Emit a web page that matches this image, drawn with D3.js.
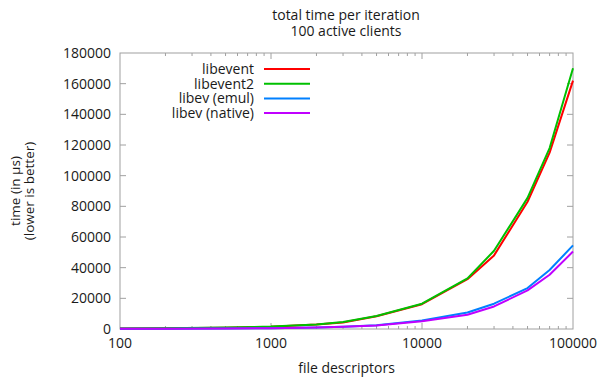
<!DOCTYPE html>
<html>
<head>
<meta charset="utf-8">
<script src="https://cdn.jsdelivr.net/npm/d3@7"></script>
<style>
  body { margin: 0; background: #fff; }
  svg { font-family: "Open Sans", sans-serif; }
</style>
</head>
<body>
<svg width="602" height="379"></svg>
<script>
const fds = [100, 200, 500, 1000, 2000, 3000, 5000, 10000, 20000, 30000, 50000, 70000, 100000];

const libevent  = [250, 450, 850, 1500, 2900, 4300, 8300, 16200, 32500, 48000, 83000, 115000, 162000];
const libevent2 = [300, 500, 900, 1600, 3000, 4500, 8500, 16500, 33000, 51000, 85500, 118000, 170000];
const libevEmul = [100, 150, 300, 550, 1000, 1500, 2500, 5500, 10800, 16500, 26700, 38500, 54500];
const libevNative = [90, 130, 280, 500, 900, 1400, 2300, 5000, 9300, 14700, 25200, 35400, 50500];

const seriesNames = ['libevent', 'libevent2', 'libev (emul)', 'libev (native)'];
const seriesColors = ['#ff0000', '#00c000', '#0080ff', '#c000ff'];
const seriesValues = [libevent, libevent2, libevEmul, libevNative];

const yTicks = [0, 20000, 40000, 60000, 80000, 100000, 120000, 140000, 160000, 180000];
const xTicks = [100, 1000, 10000, 100000];

const svg = d3.select('svg');
const plotLeft = 120, plotRight = 573, plotTop = 53, plotBottom = 329;
const axisColor = '#a0a0a0';
const textColor = '#1a1a1a';

const x = d3.scaleLog().domain([100, 100000]).range([plotLeft, plotRight]);
const y = d3.scaleLinear().domain([0, 180000]).range([plotBottom, plotTop]);

// minor ticks 2..9 per decade
const minorTicks = [];
for (let d = 100; d < 100000; d *= 10) {
    for (let m = 2; m <= 9; m++) minorTicks.push(d * m);
}

const g = svg.append('g');

// ticks (inward, mirrored on all sides)
g.selectAll('.ytick')
    .data(yTicks.slice(1, -1))
    .enter()
    .append('path')
    .attr('d', d => `M${plotLeft},${y(d)}h6M${plotRight},${y(d)}h-6`)
    .attr('stroke', axisColor)
    .attr('stroke-width', 1);

g.selectAll('.xtick')
    .data(xTicks.slice(1, -1))
    .enter()
    .append('path')
    .attr('d', d => `M${x(d)},${plotBottom}v-6M${x(d)},${plotTop}v6`)
    .attr('stroke', axisColor);

g.selectAll('.xminor')
    .data(minorTicks)
    .enter()
    .append('path')
    .attr('d', d => `M${x(d)},${plotBottom}v-3M${x(d)},${plotTop}v3`)
    .attr('stroke', axisColor);

// border
g.append('rect')
    .attr('x', plotLeft)
    .attr('y', plotTop)
    .attr('width', plotRight - plotLeft)
    .attr('height', plotBottom - plotTop)
    .attr('fill', 'none')
    .attr('stroke', axisColor);

// tick labels
g.selectAll('.ylabel')
    .data(yTicks)
    .enter()
    .append('text')
    .attr('x', plotLeft - 9)
    .attr('y', d => y(d))
    .attr('dy', '0.35em')
    .attr('text-anchor', 'end')
    .attr('font-size', 14)
    .attr('fill', textColor)
    .text(d => d);

g.selectAll('.xlabel')
    .data(xTicks)
    .enter()
    .append('text')
    .attr('x', d => x(d))
    .attr('y', plotBottom + 14)
    .attr('dy', '0.35em')
    .attr('text-anchor', 'middle')
    .attr('font-size', 14)
    .attr('fill', textColor)
    .text(d => d);

// lines
const line = d3.line()
    .x((d, i) => x(fds[i]))
    .y(d => y(d));

seriesValues.forEach((vals, i) => {
    g.append('path')
        .datum(vals)
        .attr('d', line)
        .attr('fill', 'none')
        .attr('stroke', seriesColors[i])
        .attr('stroke-width', 2)
        .attr('stroke-linejoin', 'round');
});

// legend
const legend = g.append('g');
seriesNames.forEach((name, i) => {
    const ly = 69 + i * 14.7;
    legend.append('text')
        .attr('x', 254)
        .attr('y', ly)
        .attr('dy', '0.35em')
        .attr('text-anchor', 'end')
        .attr('font-size', 14)
        .attr('fill', textColor)
        .text(name);
    legend.append('line')
        .attr('x1', 264).attr('x2', 310)
        .attr('y1', ly).attr('y2', ly)
        .attr('stroke', seriesColors[i])
        .attr('stroke-width', 2);
});

// titles
const title = svg.append('text')
    .attr('text-anchor', 'middle')
    .attr('font-size', 14)
    .attr('fill', textColor);
title.append('tspan').attr('x', 346).attr('y', 15).attr('dy', '0.35em').text('total time per iteration');
title.append('tspan').attr('x', 346).attr('y', 31).attr('dy', '0.35em').text('100 active clients');

svg.append('text')
    .attr('x', (plotLeft + plotRight) / 2)
    .attr('y', 368)
    .attr('dy', '0.35em')
    .attr('text-anchor', 'middle')
    .attr('font-size', 14)
    .attr('fill', textColor)
    .text('file descriptors');

const ytitle = svg.append('text')
    .attr('transform', `translate(0, ${(plotTop + plotBottom) / 2}) rotate(-90)`)
    .attr('text-anchor', 'middle')
    .attr('font-size', 13.5)
    .attr('fill', textColor);
ytitle.append('tspan').attr('x', 0).attr('y', 15).attr('dy', '0.35em').text('time (in µs)');
ytitle.append('tspan').attr('x', 0).attr('y', 29).attr('dy', '0.35em').text('(lower is better)');
</script>
</body>
</html>
